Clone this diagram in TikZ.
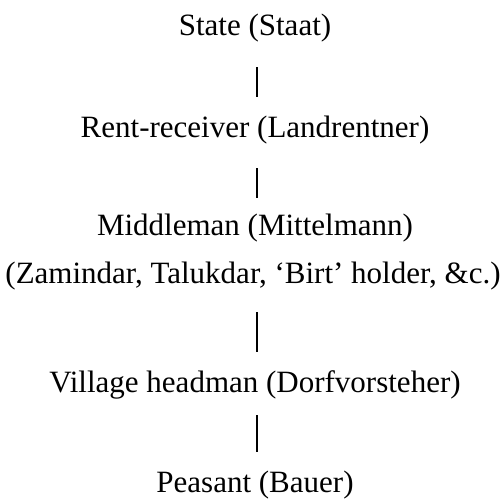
\documentclass[tikz,border=0pt]{standalone}
\usepackage{fontspec}
\setmainfont{Liberation Serif}
\begin{document}
\begin{tikzpicture}[x=1pt,y=1pt,
  lbl/.style={anchor=base,inner sep=0pt,text height=20pt,text depth=6pt,font=\fontsize{31}{36}\selectfont},
  link/.style={line width=1.6pt,black}]
\useasboundingbox (0,0) rectangle (501,-500);
\node[lbl] (s) at (255,-36) {State (Staat)};
\node[lbl] (r) at (255,-138) {Rent-receiver (Landrentner)};
\node[lbl] (m) at (255,-235) {Middleman (Mittelmann)};
\node[lbl] (z) at (253,-283) {(Zamindar, Talukdar, `Birt' holder, \&c.)};
\node[lbl] (v) at (255,-392) {Village headman (Dorfvorsteher)};
\node[lbl] (p) at (255,-492) {Peasant (Bauer)};
\draw[link,shorten <=25pt,shorten >=21pt] (s.south -| 257,0) -- (r.north -| 257,0);
\draw[link,shorten <=24pt,shorten >=17pt] (r.south -| 257,0) -- (m.north -| 257,0);
\draw[link,shorten <=23pt,shorten >=20pt] (z.south -| 257,0) -- (v.north -| 257,0);
\draw[link,shorten <=17pt,shorten >=20pt] (v.south -| 257,0) -- (p.north -| 257,0);
\end{tikzpicture}
\end{document}
